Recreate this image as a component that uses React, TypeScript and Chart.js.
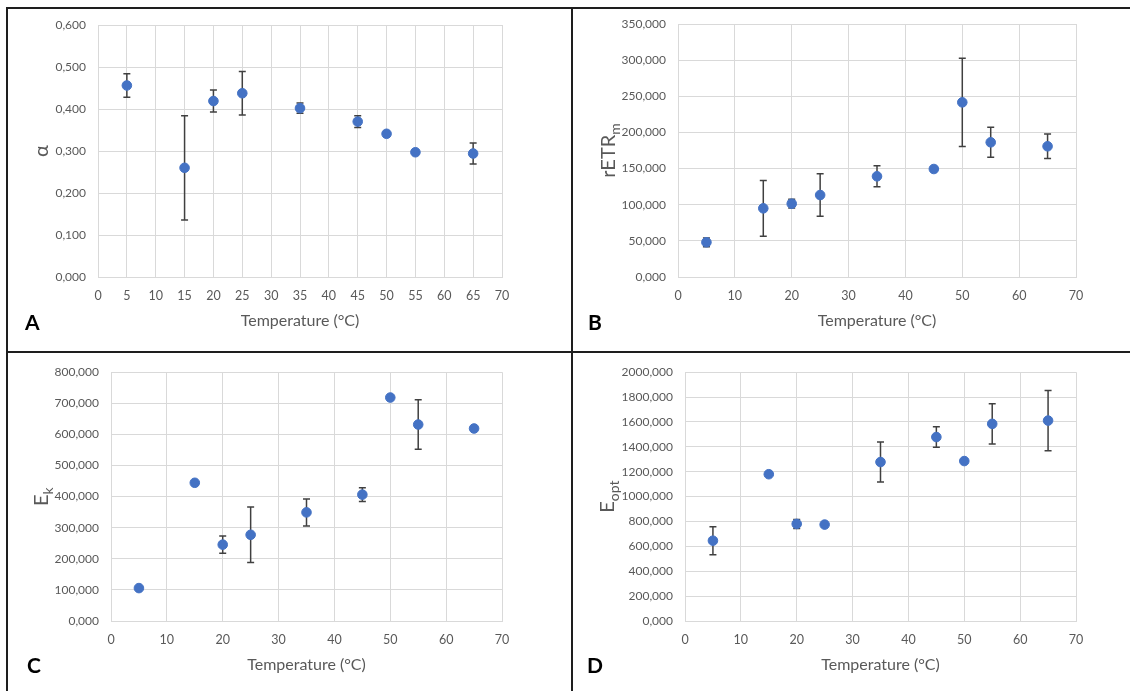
import React, { useEffect, useRef } from "react";
import { Chart, registerables } from "chart.js";

Chart.register(...registerables);

// ---- Data ----
const temperatures = [5, 15, 20, 25, 35, 45, 50, 55, 65];

const alphaValues = [0.456, 0.26, 0.419, 0.4375, 0.402, 0.37, 0.341, 0.297, 0.294];
const alphaErrors = [0.028, 0.124, 0.026, 0.052, 0.012, 0.014, 0.006, 0.004, 0.025];

const retrValues = [48.0, 95.0, 101.4, 113.4, 139.3, 149.4, 241.6, 186.3, 180.8];
const retrErrors = [6, 38.5, 6, 29.5, 14.5, 2, 61, 20.7, 17];

const ekValues = [105.8, 444.4, 245.5, 277.2, 349.2, 406.3, 718.5, 631.7, 619.0];
const ekErrors = [0, 0, 27.5, 89, 43.4, 22, 0, 79.4, 0];

const eoptValues = [645.5, 1180, 780.4, 775.1, 1277.8, 1478.8, 1285.7, 1584.7, 1611];
const eoptErrors = [112, 0, 36, 0, 161, 82, 0, 161.5, 242];

const xAxisTitle = "Temperature (°C)";

const FONT = "Lato, 'Open Sans', 'DejaVu Sans', sans-serif";
const BLUE = "#4472C4";
const GRID = "#d9d9d9";
const TEXT = "#595959";

const errorBarPlugin = {
  id: "errorBars",
  beforeDatasetsDraw(chart: any, _args: any, opts: any) {
    const errs: number[] = opts.errors;
    if (!errs) return;
    const { ctx } = chart;
    const x = chart.scales.x;
    const y = chart.scales.y;
    const data = chart.data.datasets[0].data as { x: number; y: number }[];
    ctx.save();
    ctx.strokeStyle = "#404040";
    ctx.lineWidth = 1.5;
    const cap = 3.5;
    data.forEach((p, i) => {
      const e = errs[i];
      if (!e) return;
      const px = x.getPixelForValue(p.x);
      const top = y.getPixelForValue(p.y + e);
      const bot = y.getPixelForValue(p.y - e);
      ctx.beginPath();
      ctx.moveTo(px, top);
      ctx.lineTo(px, bot);
      ctx.moveTo(px - cap, top);
      ctx.lineTo(px + cap, top);
      ctx.moveTo(px - cap, bot);
      ctx.lineTo(px + cap, bot);
      ctx.stroke();
    });
    ctx.restore();
  },
};

const textPlugin = {
  id: "panelText",
  afterDraw(chart: any, _args: any, opts: any) {
    const { ctx, chartArea } = chart;
    ctx.save();
    // x title
    ctx.fillStyle = TEXT;
    ctx.font = `16px ${FONT}`;
    ctx.textAlign = "center";
    ctx.textBaseline = "middle";
    ctx.fillText(opts.xTitle, (chartArea.left + chartArea.right) / 2, chartArea.bottom + 44);
    // y title rotated, with subscript
    const cy = (chartArea.top + chartArea.bottom) / 2;
    ctx.translate(opts.yX, cy);
    ctx.rotate(-Math.PI / 2);
    ctx.textAlign = "left";
    ctx.textBaseline = "middle";
    const mainFont = `20px ${FONT}`;
    const subFont = `14px ${FONT}`;
    ctx.font = mainFont;
    const wMain = ctx.measureText(opts.yMain).width;
    ctx.font = subFont;
    const wSub = opts.ySub ? ctx.measureText(opts.ySub).width : 0;
    const start = -(wMain + wSub) / 2;
    ctx.font = mainFont;
    ctx.fillText(opts.yMain, start, 0);
    if (opts.ySub) {
      ctx.font = subFont;
      ctx.fillText(opts.ySub, start + wMain, 6);
    }
    ctx.restore();
    // panel letter
    ctx.save();
    ctx.fillStyle = "#000";
    ctx.font = `bold 21px ${FONT}`;
    ctx.textAlign = "left";
    ctx.textBaseline = "alphabetic";
    ctx.fillText(opts.letter, opts.letterX, opts.letterY);
    ctx.restore();
  },
};

type PanelProps = {
  left: number;
  top: number;
  width: number;
  height: number;
  area: { l: number; r: number; t: number; b: number };
  values: number[];
  errors: number[];
  yMax: number;
  yStep: number;
  xStep: number;
  yMain: string;
  ySub: string;
  yX: number;
  letter: string;
  letterX: number;
  letterY: number;
};

function Panel(p: PanelProps) {
  const ref = useRef<HTMLCanvasElement>(null);
  useEffect(() => {
    if (!ref.current) return;
    const points = temperatures.map((t, i) => ({ x: t, y: p.values[i] }));
    const chart = new Chart(ref.current, {
      type: "scatter",
      data: {
        datasets: [
          {
            data: points,
            backgroundColor: BLUE,
            borderColor: BLUE,
            pointRadius: 4.8,
            pointHoverRadius: 4.8,
            showLine: false,
          },
        ],
      },
      options: {
        responsive: false,
        animation: false,
        events: [],
        layout: {
          padding: {
            left: 0,
            top: p.area.t,
            right: p.width - p.area.r,
            bottom: 0,
          },
        },
        scales: {
          x: {
            type: "linear",
            min: 0,
            max: 70,
            afterFit: (s: any) => {
              s.height = p.height - p.area.b;
            },
            ticks: {
              stepSize: p.xStep,
              color: TEXT,
              font: { family: FONT, size: 12.5 },
              padding: 11,
              maxRotation: 0,
            },
            grid: { color: GRID, lineWidth: 1, drawTicks: false },
            border: { display: true, color: GRID, width: 1 },
          },
          y: {
            type: "linear",
            min: 0,
            max: p.yMax,
            afterFit: (s: any) => {
              s.width = p.area.l;
            },
            ticks: {
              stepSize: p.yStep,
              color: TEXT,
              font: { family: FONT, size: 12 },
              padding: 12,
              callback: (v: any) => Number(v).toFixed(3).replace(".", ","),
            },
            grid: { color: GRID, lineWidth: 1, drawTicks: false },
            border: { display: true, color: GRID, width: 1 },
          },
        },
        plugins: {
          legend: { display: false },
          tooltip: { enabled: false },
          errorBars: { errors: p.errors },
          panelText: {
            xTitle: xAxisTitle,
            yMain: p.yMain,
            ySub: p.ySub,
            yX: p.yX,
            letter: p.letter,
            letterX: p.letterX,
            letterY: p.letterY,
          },
        } as any,
      },
      plugins: [errorBarPlugin, textPlugin],
    });
    return () => chart.destroy();
  }, []);
  return (
    <canvas
      ref={ref}
      width={p.width}
      height={p.height}
      style={{ position: "absolute", left: p.left, top: p.top, width: p.width, height: p.height }}
    />
  );
}

export default function App() {
  const line = (l: number, t: number, w: number, h: number) => (
    <div style={{ position: "absolute", left: l, top: t, width: w, height: h, background: "#1e1e1e" }} />
  );
  return (
    <div
      style={{
        position: "absolute",
        left: 0,
        top: 0,
        width: 1130,
        height: 691,
        background: "#fff",
        overflow: "hidden",
      }}
    >
      <Panel
        left={0}
        top={0}
        width={571}
        height={351}
        area={{ l: 98, r: 502, t: 25, b: 277 }}
        values={alphaValues}
        errors={alphaErrors}
        yMax={0.6}
        yStep={0.1}
        xStep={5}
        yMain="α"
        ySub=""
        yX={42}
        letter="A"
        letterX={25}
        letterY={330}
      />
      <Panel
        left={573}
        top={0}
        width={557}
        height={351}
        area={{ l: 105, r: 503, t: 24, b: 277 }}
        values={retrValues}
        errors={retrErrors}
        yMax={350}
        yStep={50}
        xStep={10}
        yMain="rETR"
        ySub="m"
        yX={36}
        letter="B"
        letterX={15}
        letterY={330}
      />
      <Panel
        left={0}
        top={353}
        width={571}
        height={338}
        area={{ l: 111, r: 502, t: 16, b: 268 }}
        values={ekValues}
        errors={ekErrors}
        yMax={800}
        yStep={100}
        xStep={10}
        yMain="E"
        ySub="k"
        yX={42}
        letter="C"
        letterX={27}
        letterY={320}
      />
      <Panel
        left={573}
        top={353}
        width={557}
        height={338}
        area={{ l: 112, r: 503, t: 16, b: 268 }}
        values={eoptValues}
        errors={eoptErrors}
        yMax={2000}
        yStep={200}
        xStep={10}
        yMain="E"
        ySub="opt"
        yX={35}
        letter="D"
        letterX={14}
        letterY={320}
      />
      {line(6, 7, 1124, 2)}
      {line(6, 7, 2, 684)}
      {line(571, 7, 2, 684)}
      {line(6, 351, 1124, 2)}
    </div>
  );
}
